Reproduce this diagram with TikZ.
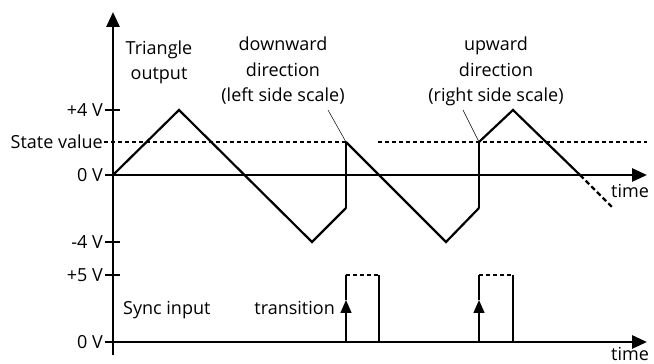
\documentclass[tikz,border=0pt]{standalone}
\usepackage{fontspec}
\setmainfont{Open Sans}
\usetikzlibrary{arrows.meta}
\begin{document}
\begin{tikzpicture}[x=1pt,y=1pt,
  font=\fontsize{18}{25.5}\selectfont,
  axis/.style={line width=2.8pt,-{Triangle[length=15pt,width=13pt]}},
  wave/.style={line width=2.2pt,line join=miter},
  thin/.style={line width=1.4pt},
  statedash/.style={line width=1.1pt,dash pattern=on 4pt off 3pt},
  tick/.style={line width=2.4pt},
  lab/.style={inner sep=1pt,anchor=east},
  txt/.style={align=center,inner sep=0pt}]
\useasboundingbox (0,0) rectangle (654,364);
% axes
\coordinate (ybot) at (113,9);
\coordinate (ytop) at (113,352);
\coordinate (t0) at (113,189);
\coordinate (tend) at (647,189);
\coordinate (s0) at (113,22);
\coordinate (send) at (647,22);
\draw[axis] (ybot) -- (ytop);
\draw[axis] (t0) -- (tend);
\draw[axis] (s0) -- (send);
% ticks and labels
\foreach \yy/\nm/\tx in {254/p4/{+4 V},189/z1/{0 V},122/m4/{-4 V},89/p5/{+5 V},22/z2/{0 V}}{
  \draw[tick] (105,\yy) -- (120,\yy);
  \node[lab] (\nm) at (104,\yy) {\tx};
}
\node[lab] (sv) at (104,222) {State value};
% state value dashed
\coordinate (d1a) at (104,222);
\coordinate (d1b) at (346,222);
\coordinate (d2a) at (378,222);
\coordinate (d2b) at (647,222);
\draw[statedash] (d1a) -- (d1b);
\draw[statedash] (d2a) -- (d2b);
% triangle wave
\coordinate (w0) at (113,189);
\coordinate (w1) at (179,254);
\coordinate (w2) at (312,122);
\coordinate (w3) at (346,156);
\coordinate (w4) at (346,222);
\coordinate (w5) at (446,122);
\coordinate (w6) at (479,156);
\coordinate (w7) at (479,222);
\coordinate (w8) at (513,254);
\coordinate (w9) at (580,189);
\coordinate (w10) at (613,156);
\draw[wave] (w0) -- (w1) -- (w2) -- (w3);
\draw[thin] (w3) -- (w4);
\draw[wave] (w4) -- (w5) -- (w6);
\draw[thin] (w6) -- (w7);
\draw[wave] (w7) -- (w8) -- (w9);
\draw[wave,dash pattern=on 5pt off 3pt] (w9) -- (w10);
% labels
\node[txt,anchor=base] (tri) at (159,284) {Triangle\\output};
\node[txt,anchor=base] (down) at (283,262) {downward\\direction\\(left side scale)};
\node[txt,anchor=base] (up) at (496,262) {upward\\direction\\(right side scale)};
\draw[line width=0.5pt] (328,254) -- (w4);
\draw[line width=0.5pt] (463,254) -- (w7);
\node[anchor=base west,inner sep=0pt] (time1) at (611,166) {time};
\node[anchor=base west,inner sep=0pt] (time2) at (611,3.5) {time};
% sync pulses
\foreach \xa/\xb/\nm in {346/379/a,479/513/b}{
  \coordinate (\nm0) at (\xa,22);
  \coordinate (\nm1) at (\xa,89);
  \coordinate (\nm2) at (\xb,89);
  \coordinate (\nm3) at (\xb,22);
  \coordinate (\nm m) at (\xa,64);
  \draw[thin,-{Triangle[length=13pt,width=11pt]}] (\nm0) -- (\nm m);
  \draw[thin] (\nm m) -- (\nm1);
  \draw[statedash] (\nm1) -- (\nm2);
  \draw[thin] (\nm2) -- (\nm3);
}
\node[anchor=base west,inner sep=0pt] (sync) at (123,49) {Sync input};
\node[anchor=base east,inner sep=0pt] (trans) at (335,49) {transition};
\end{tikzpicture}
\end{document}
